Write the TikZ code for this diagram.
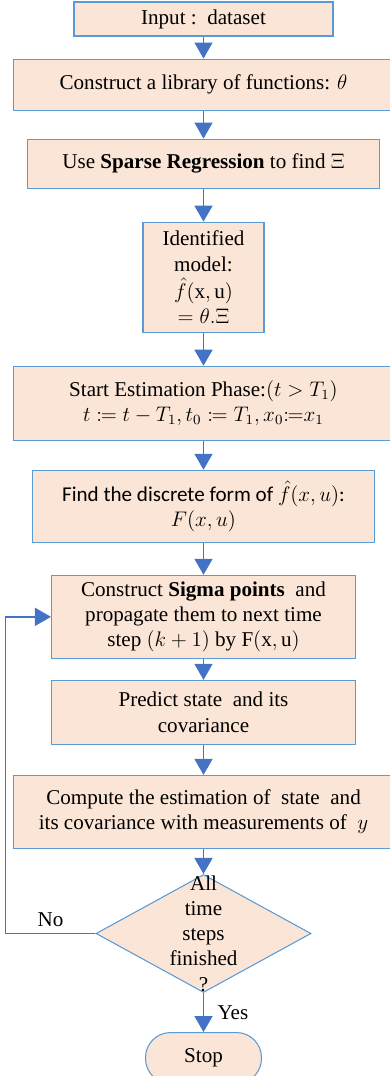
\documentclass[tikz,border=0pt]{standalone}
\usepackage{amsmath}
\usepackage{mathtools}
\usepackage{fontspec}
\setmainfont{Liberation Serif}
\newfontfamily\calibrifont{Carlito}
\usetikzlibrary{arrows.meta, shapes.geometric, positioning}
\definecolor{boxfill}{HTML}{FBE5D6}
\definecolor{boxline}{HTML}{5B9BD5}
\definecolor{flowblue}{HTML}{4472C4}
\tikzset{
  process/.style={
    rectangle, draw=boxline, line width=0.6pt, fill=boxfill,
    inner sep=2pt, align=center
  },
  decision/.style={
    diamond, draw=boxline, line width=0.6pt, fill=boxfill,
    minimum width=4.3cm, minimum height=2.36cm, inner sep=0pt
  },
  terminal/.style={
    rectangle, rounded corners=0.5cm, draw=boxline, line width=0.6pt,
    fill=boxfill, minimum width=2.32cm, minimum height=1.02cm
  },
  arrow/.style={-{Triangle[width=0.36cm,length=0.32cm]}, line width=0.85pt, draw=flowblue}
}
\begin{document}
\begin{tikzpicture}[node distance=0.6cm, font=\fontsize{12pt}{14.4pt}\selectfont]
\useasboundingbox (0,0) rectangle (7.78,-21.52);

\node[process, minimum width=5.18cm, minimum height=0.68cm] (input) at (4.07,-0.38) {Input :~~dataset};
\node[process, minimum width=7.6cm, minimum height=1.02cm, below=0.44cm of input] (library) {Construct a library of functions: $\theta$};
\node[process, minimum width=7.04cm, minimum height=0.98cm, below=0.56cm of library] (sparse_reg) {Use \textbf{Sparse Regression} to find $\Xi$};
\node[process, minimum width=2.42cm, minimum height=2.2cm, below=0.66cm of sparse_reg] (model) {Identified\\model:\\[1pt]$\hat{f}(\mathrm{x},\mathrm{u})$\\$=\theta.\Xi$};
\node[process, minimum width=7.6cm, minimum height=1.48cm, below=0.66cm of model] (est_phase) {Start Estimation Phase:$(t>T_1)$\\$t\coloneqq t-T_1, t_0\coloneqq T_1, x_0{\coloneqq}x_1$};
\node[process, minimum width=6.84cm, minimum height=1.44cm, below=0.58cm of est_phase, font=\calibrifont\fontsize{12pt}{14.4pt}\selectfont] (discrete) {Find the discrete form of $\hat{f}(x,u)$:\\$F(x,u)$};
\node[process, minimum width=6.08cm, minimum height=1.66cm, below=0.64cm of discrete] (sigma) {Construct \textbf{Sigma points}~ and\\propagate them to next time\\step $(k+1)$ by $\mathrm{F}(\mathrm{x},\mathrm{u})$};
\node[process, minimum width=6.08cm, minimum height=1.28cm, below=0.42cm of sigma] (predict) {Predict state~ and its\\covariance};
\node[process, minimum width=7.6cm, minimum height=1.46cm, below=0.6cm of predict] (update) {Compute the estimation of~ state~ and\\its covariance with measurements of~ $y$};
\node[decision, below=0.5cm of update] (done) {};
\node[align=center] (done_txt) at (done) {All\\time\\steps\\finished\\?};
\node[terminal, below=0.78cm of done] (stop) {Stop};

\draw[arrow] (input) -- (library);
\draw[arrow] (library) -- (sparse_reg);
\draw[arrow] (sparse_reg) -- (model);
\draw[arrow] (model) -- (est_phase);
\draw[arrow] (est_phase) -- (discrete);
\draw[arrow] (discrete) -- (sigma);
\draw[arrow] (sigma) -- (predict);
\draw[arrow] (predict) -- (update);
\draw[arrow] (update) -- (done);
\draw[arrow] (done) -- node[right, xshift=0.15cm] {Yes} (stop);
\draw[arrow] (done.west) -- node[above] {No} ++(-1.8,0) |- (sigma.west);

\end{tikzpicture}
\end{document}
